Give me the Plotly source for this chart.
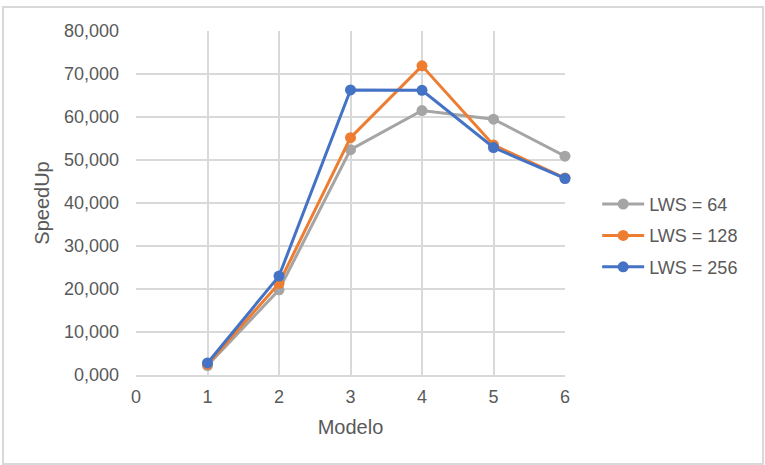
import plotly.graph_objects as go

modelos = [1, 2, 3, 4, 5, 6]
lws_64 = [2.2, 19.8, 52.4, 61.5, 59.5, 50.9]
lws_128 = [2.5, 21.3, 55.2, 71.9, 53.5, 45.8]
lws_256 = [2.8, 23.0, 66.3, 66.2, 52.9, 45.7]
series_names = ["LWS = 64", "LWS = 128", "LWS = 256"]
colors = ["#A5A5A5", "#ED7D31", "#4472C4"]

fig = go.Figure()
for i, (name, vals, col) in enumerate(zip(series_names, [lws_64, lws_128, lws_256], colors)):
    fig.add_trace(go.Scatter(
        x=modelos, y=vals, name=name, mode="lines+markers",
        line=dict(color=col, width=3),
        marker=dict(color=col, size=11),
        legendgroup=f"g{i}",
        cliponaxis=False,
    ))

font_fam = "Liberation Sans, Arial, sans-serif"
txt = "#595959"
grid = "#D9D9D9"

fig.update_layout(
    width=765, height=465,
    paper_bgcolor="white", plot_bgcolor="white",
    margin=dict(l=136, r=200, t=31, b=90),
    separators=",.",
    font=dict(family=font_fam, color=txt, size=18),
    showlegend=True,
    legend=dict(
        x=1.075, y=0.55, xanchor="left", yanchor="top",
        font=dict(size=18, color=txt),
        tracegroupgap=5, itemwidth=42,
        bgcolor="rgba(0,0,0,0)",
    ),
    xaxis=dict(
        range=[0, 6], dtick=1, tick0=0,
        showgrid=True, gridcolor=grid, gridwidth=1.5,
        showline=True, linecolor=grid, linewidth=1.5,
        zeroline=False, ticks="",
        ticklabelstandoff=5,
        tickfont=dict(size=18, color=txt),
        title=dict(text="Modelo", font=dict(size=20, color=txt), standoff=14),
    ),
    yaxis=dict(
        range=[0, 80], dtick=10, tick0=0, tickformat=".3f",
        showgrid=True, gridcolor=grid, gridwidth=1.5,
        showline=False, zeroline=False, ticks="",
        ticklabelstandoff=16,
        tickfont=dict(size=18, color=txt),
        title=dict(text="SpeedUp", font=dict(size=20, color=txt), standoff=8),
    ),
    shapes=[dict(
        type="rect", xref="paper", yref="paper",
        x0=(3 - 136) / 429, x1=(763 - 136) / 429,
        y0=(375 - 464) / 344, y1=(375 - 7) / 344,
        line=dict(color="#D9D9D9", width=2), fillcolor="rgba(0,0,0,0)", layer="below",
    )],
)

fig.write_html("out.html", config={"displayModeBar": False},
               post_script="document.body.style.margin='0';")
